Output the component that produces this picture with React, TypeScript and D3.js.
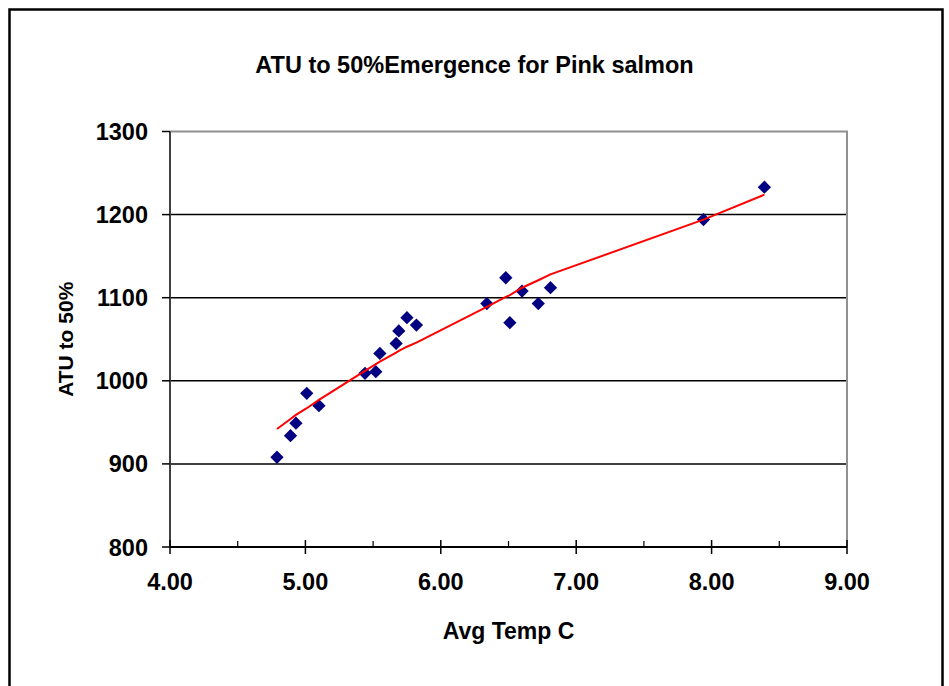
import { useRef, useEffect } from "react";
import * as d3 from "d3";

const avgTemp = [4.79, 4.89, 4.93, 5.01, 5.1, 5.44, 5.52, 5.55, 5.67, 5.69, 5.75, 5.82, 6.34, 6.48, 6.51, 6.6, 6.72, 6.81, 7.94, 8.39];
const atu50 = [908, 934, 949, 985, 970, 1009, 1011, 1033, 1045, 1060, 1076, 1067, 1093, 1124, 1070, 1108, 1093, 1112, 1194, 1233];

// fitted line, drawn through the same x positions
const fitTemp = [4.79, 4.89, 4.93, 5.01, 5.1, 5.44, 5.52, 5.55, 5.67, 5.69, 5.75, 5.82, 6.34, 6.48, 6.51, 6.6, 6.72, 6.81, 7.94, 8.39];
const fitAtu = [942, 954, 959, 967, 977, 1012, 1020, 1023, 1034, 1036, 1041, 1046, 1089, 1101, 1103, 1112, 1121, 1128, 1194, 1224];

const xTicks = [4, 5, 6, 7, 8, 9];
const xMinorTicks = [4.5, 5.5, 6.5, 7.5, 8.5];
const yTicks = [800, 900, 1000, 1100, 1200, 1300];

const W = 949;
const H = 686;
const FONT = "'Liberation Sans', Arial, sans-serif";

const App: React.FC = () => {
  const svgRef = useRef<SVGSVGElement | null>(null);

  useEffect(() => {
    if (!svgRef.current) return;
    const svg = d3.select(svgRef.current);
    svg.selectAll("*").remove();

    const left = 170;
    const right = 847;
    const top = 131.5;
    const bottom = 547;

    const x = d3.scaleLinear().domain([4, 9]).range([left, right]);
    const y = d3.scaleLinear().domain([800, 1300]).range([bottom, top]);

    svg.append("rect").attr("width", W).attr("height", H).attr("fill", "#fff");

    // outer chart frame
    svg
      .append("rect")
      .attr("x", 9.5)
      .attr("y", 9.5)
      .attr("width", 933)
      .attr("height", 720)
      .attr("fill", "none")
      .attr("stroke", "#000")
      .attr("stroke-width", 2.5);

    // title
    svg
      .append("text")
      .attr("x", 474.5)
      .attr("y", 73)
      .attr("text-anchor", "middle")
      .attr("font-family", FONT)
      .attr("font-weight", "bold")
      .attr("font-size", 23.5)
      .text("ATU to 50%Emergence for Pink salmon");

    // gridlines
    svg
      .append("g")
      .selectAll("line")
      .data(yTicks.filter((t) => t > 800 && t < 1300))
      .join("line")
      .attr("x1", left)
      .attr("x2", right)
      .attr("y1", (d) => y(d))
      .attr("y2", (d) => y(d))
      .attr("stroke", "#000")
      .attr("stroke-width", 1.5);

    // plot area border (top / right)
    svg
      .append("path")
      .attr("d", `M${left},${top}H${right}V${bottom}`)
      .attr("fill", "none")
      .attr("stroke", "#909090")
      .attr("stroke-width", 2);

    // y axis
    const yAxis = svg.append("g");
    yAxis
      .append("line")
      .attr("x1", left)
      .attr("x2", left)
      .attr("y1", top)
      .attr("y2", bottom)
      .attr("stroke", "#404040")
      .attr("stroke-width", 2);
    yAxis
      .selectAll("line.tick")
      .data(yTicks)
      .join("line")
      .attr("class", "tick")
      .attr("x1", left - 8)
      .attr("x2", left)
      .attr("y1", (d) => y(d))
      .attr("y2", (d) => y(d))
      .attr("stroke", "#000")
      .attr("stroke-width", 1.5);
    yAxis
      .selectAll("text")
      .data(yTicks)
      .join("text")
      .attr("x", left - 22)
      .attr("y", (d) => y(d) + 8.5)
      .attr("text-anchor", "end")
      .attr("font-family", FONT)
      .attr("font-weight", "bold")
      .attr("font-size", 23.5)
      .text((d) => d);

    // x axis
    const xAxis = svg.append("g");
    xAxis
      .append("line")
      .attr("x1", left)
      .attr("x2", right)
      .attr("y1", bottom)
      .attr("y2", bottom)
      .attr("stroke", "#000")
      .attr("stroke-width", 2);
    xAxis
      .selectAll("line.major")
      .data(xTicks)
      .join("line")
      .attr("class", "major")
      .attr("x1", (d) => x(d))
      .attr("x2", (d) => x(d))
      .attr("y1", bottom - 7)
      .attr("y2", bottom + 7)
      .attr("stroke", "#000")
      .attr("stroke-width", 1.5);
    xAxis
      .selectAll("line.minor")
      .data(xMinorTicks)
      .join("line")
      .attr("class", "minor")
      .attr("x1", (d) => x(d))
      .attr("x2", (d) => x(d))
      .attr("y1", bottom - 6)
      .attr("y2", bottom)
      .attr("stroke", "#000")
      .attr("stroke-width", 1.2);
    xAxis
      .selectAll("text")
      .data(xTicks)
      .join("text")
      .attr("x", (d) => x(d))
      .attr("y", bottom + 43)
      .attr("text-anchor", "middle")
      .attr("font-family", FONT)
      .attr("font-weight", "bold")
      .attr("font-size", 23.5)
      .text((d) => d3.format(".2f")(d));

    // axis titles
    svg
      .append("text")
      .attr("x", x(6.5))
      .attr("y", 639)
      .attr("text-anchor", "middle")
      .attr("font-family", FONT)
      .attr("font-weight", "bold")
      .attr("font-size", 23)
      .text("Avg Temp C");
    svg
      .append("text")
      .attr("transform", `translate(73,${(top + bottom) / 2}) rotate(-90)`)
      .attr("text-anchor", "middle")
      .attr("font-family", FONT)
      .attr("font-weight", "bold")
      .attr("font-size", 21)
      .text("ATU to 50%");

    // markers
    const diamond = d3.symbol(d3.symbolSquare, 88)();
    svg
      .append("g")
      .selectAll("path")
      .data(avgTemp.map((t, i) => [t, atu50[i]]))
      .join("path")
      .attr("d", diamond)
      .attr("transform", (d) => `translate(${x(d[0])},${y(d[1])}) rotate(45)`)
      .attr("fill", "#000080");

    // fitted line
    const line = d3
      .line<number>()
      .x((d) => x(d))
      .y((_, i) => y(fitAtu[i]));
    svg
      .append("path")
      .datum(fitTemp)
      .attr("d", line)
      .attr("fill", "none")
      .attr("stroke", "#ff0000")
      .attr("stroke-width", 2);
  }, []);

  return (
    <svg
      ref={svgRef}
      width={W}
      height={H}
      style={{ position: "absolute", left: 0, top: 0 }}
    />
  );
};

export default App;
